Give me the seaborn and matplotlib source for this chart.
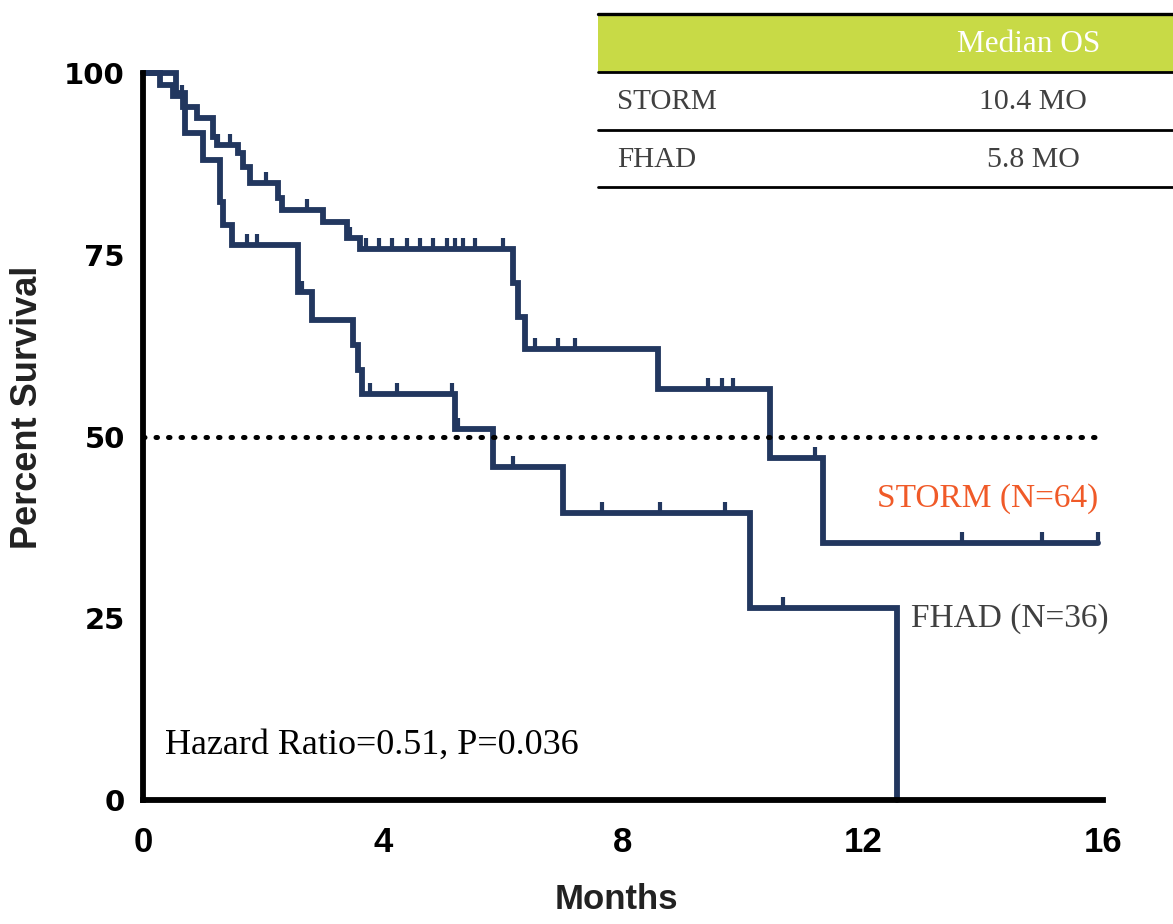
import numpy as np
import pandas as pd
import seaborn as sns
import matplotlib.pyplot as plt
from matplotlib.patches import Rectangle
from matplotlib.lines import Line2D

# Kaplan-Meier steps (months, percent survival)
storm_t = [0, 0.28, 0.5, 0.67, 0.9, 1.17, 1.23, 1.58, 1.67, 1.78, 2.25, 2.32, 3.0, 3.4, 3.62,
           6.17, 6.25, 6.37, 8.58, 10.45, 11.33, 15.92]
storm_s = [100, 98.4, 96.9, 95.3, 93.8, 91.2, 90.1, 89.0, 87.1, 84.9, 82.8, 81.2, 79.5, 77.3, 75.8,
           71.1, 66.4, 62.0, 56.6, 47.0, 35.4, 35.4]
storm_cens = [0.65, 1.25, 1.45, 2.05, 2.73, 3.45, 3.72, 3.93, 4.15, 4.4, 4.62, 4.83, 5.07, 5.2,
              5.33, 5.53, 6.0, 6.53, 6.92, 7.2, 9.42, 9.65, 9.83, 11.2, 13.65, 14.98, 15.92]

fhad_t = [0, 0.55, 0.7, 1.0, 1.28, 1.33, 1.48, 2.58, 2.82, 3.5, 3.58, 3.65, 5.2, 5.83, 7.0,
          10.12, 12.57]
fhad_s = [100, 97.2, 91.7, 88.0, 82.3, 79.1, 76.3, 69.9, 66.0, 62.6, 59.1, 55.8, 51.0, 45.8, 39.5,
          26.4, 0]
fhad_cens = [1.73, 1.9, 2.65, 3.78, 4.23, 5.15, 5.25, 6.17, 7.65, 8.62, 9.7, 10.67]

table_rows = ["STORM", "FHAD"]
table_median = ["10.4 MO", "5.8 MO"]

navy = "#22375f"
W, H = 1173, 924

df = pd.concat([
    pd.DataFrame({"months": storm_t, "survival": storm_s, "arm": "STORM"}),
    pd.DataFrame({"months": fhad_t, "survival": fhad_s, "arm": "FHAD"}),
])

sns.set_style("white")
plt.rcParams["font.family"] = ["Liberation Sans", "DejaVu Sans"]

fig = plt.figure(figsize=(W / 100, H / 100), dpi=100)
ax = fig.add_axes([143 / W, 124 / H, 960 / W, 727 / H])

sns.lineplot(data=df, x="months", y="survival", hue="arm", units="arm", estimator=None,
             palette={"STORM": navy, "FHAD": navy}, drawstyle="steps-post",
             linewidth=4.2, legend=False, sort=False, ax=ax)
for ln in ax.lines:
    ln.set_clip_on(False)
    ln.set_solid_joinstyle("miter")


def level(ts, ss, c):
    i = np.searchsorted(ts, c, side="right") - 1
    return ss[i]


for ts, ss, cens in [(storm_t, storm_s, storm_cens), (fhad_t, fhad_s, fhad_cens)]:
    lv = [level(ts, ss, c) for c in cens]
    ax.vlines(cens, lv, [v + 1.5 for v in lv], colors=navy, linewidth=3, clip_on=False)

ax.axhline(50, color="black", linestyle=(0, (0.3, 2.2)), linewidth=3.6,
           dash_capstyle="round")

ax.set_xlim(0, 16)
ax.set_ylim(0, 100)
ax.set_xticks([0, 4, 8, 12, 16])
ax.set_yticks([0, 25, 50, 75, 100])
sns.despine(ax=ax)
for sp in ["left", "bottom"]:
    ax.spines[sp].set_linewidth(4.2)
    ax.spines[sp].set_color("black")
ax.tick_params(axis="both", direction="out", length=9, width=3, color="black",
               labelcolor="black")
ax.tick_params(axis="y", pad=4)
ax.tick_params(axis="x", pad=10)
for lab in ax.get_yticklabels():
    lab.set_fontsize(21)
    lab.set_fontweight("heavy")
    lab.set_family(["DejaVu Sans"])
for lab in ax.get_xticklabels():
    lab.set_fontsize(25)
    lab.set_fontweight("bold")

ax.set_xlabel("Months", fontsize=25, fontweight="bold", color="#222222", va="top")
ax.xaxis.set_label_coords(0.493, -0.114)
ax.set_ylabel("Percent Survival", fontsize=26, fontweight="bold", color="#222222")
ax.yaxis.set_label_coords(-0.102, 0.54)

serif = ["Liberation Serif", "DejaVu Serif"]
ax.text(15.92, 41.5, "STORM (N=64)", color="#f05a28", fontsize=24, family=serif,
        ha="right", va="center")
ax.text(16.1, 25.0, "FHAD (N=36)", color="#404040", fontsize=24, family=serif,
        ha="right", va="center")
ax.text(0.37, 7.5, "Hazard Ratio=0.51, P=0.036", color="black", fontsize=26, family=serif,
        ha="left", va="center")


# Median OS table (figure pixel coordinates from the top-left corner)
def fx(px):
    return px / W


def fy(py):
    return 1 - py / H


fig.patches.append(Rectangle((fx(598), fy(72)), fx(W) - fx(598), fy(14) - fy(72),
                             transform=fig.transFigure, facecolor="#c8da46", edgecolor="none"))
for py, lw in [(14, 2.4), (72, 2.0), (130, 2.0), (187, 2.0)]:
    fig.lines.append(Line2D([fx(598), 1], [fy(py), fy(py)], transform=fig.transFigure,
                            color="black", linewidth=lw))
fig.text(fx(1029), fy(45), "Median OS", color="white", fontsize=22.5, family=serif,
         ha="center", va="center")
for i, (name, med) in enumerate(zip(table_rows, table_median)):
    yc = fy(102 + 58 * i)
    fig.text(fx(617), yc, name, color="#404040", fontsize=21, family=serif,
             ha="left", va="center")
    fig.text(fx(1033), yc, med, color="#404040", fontsize=21.5, family=serif,
             ha="center", va="center")

fig.savefig("out.png", dpi=100)
